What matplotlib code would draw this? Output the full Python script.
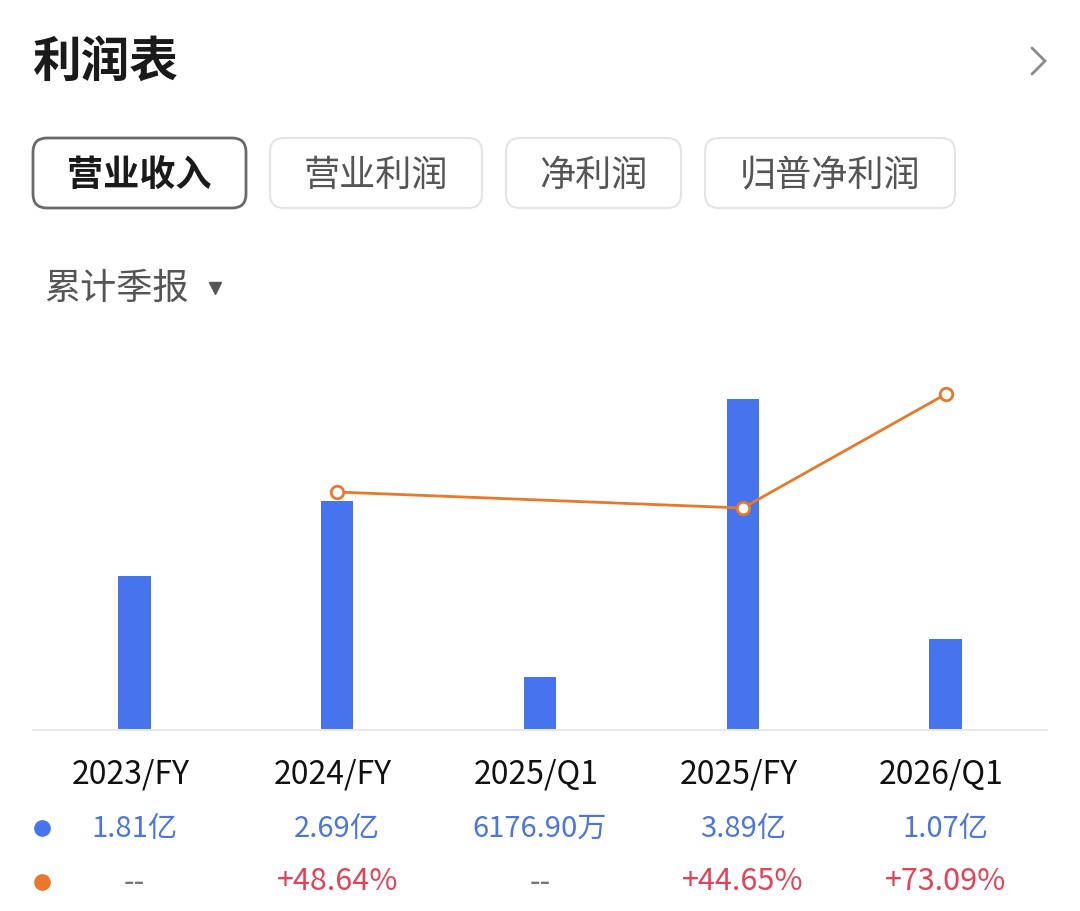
import matplotlib
matplotlib.use('Agg')
import matplotlib.pyplot as plt
from matplotlib.patches import FancyBboxPatch
from matplotlib.transforms import blended_transform_factory

plt.rcParams['font.family'] = ['Noto Sans CJK SC', 'DejaVu Sans']

# 数据
periods = ['2023/FY', '2024/FY', '2025/Q1', '2025/FY', '2026/Q1']
revenue = [1.81, 2.69, 0.617690, 3.89, 1.07]          # 亿
revenue_text = ['1.81亿', '2.69亿', '6176.90万', '3.89亿', '1.07亿']
growth = [None, 48.64, None, 44.65, 73.09]             # %
growth_text = ['--', '+48.64%', '--', '+44.65%', '+73.09%']
tabs = ['营业收入', '营业利润', '净利润', '归普净利润']

BLUE = '#4673ee'
ORANGE = '#e8782a'
RED = '#e2435a'

W, H = 1080, 911
fig = plt.figure(figsize=(W / 100, H / 100), dpi=100)

# 背景层，用像素坐标画标题和按钮
bg = fig.add_axes([0, 0, 1, 1])
bg.set_xlim(0, W)
bg.set_ylim(H, 0)
bg.axis('off')

bg.text(33, 62, '利润表', fontsize=35, fontweight='bold', color='#1a1a1a',
        ha='left', va='center')
# 右上角箭头
bg.plot([1032, 1045, 1032], [48, 61, 74], color='#8a8a8a', linewidth=2,
        solid_capstyle='round', solid_joinstyle='miter')

tab_x = [(33, 246), (270, 482), (506, 681), (705, 955)]
for i, (name, (x0, x1)) in enumerate(zip(tabs, tab_x)):
    sel = i == 0
    box = FancyBboxPatch((x0, 138), x1 - x0, 70,
                         boxstyle='round,pad=0,rounding_size=14',
                         facecolor='white',
                         edgecolor='#6a6a6a' if sel else '#e4e4e4',
                         linewidth=2.0 if sel else 1.5)
    bg.add_patch(box)
    bg.text((x0 + x1) / 2, 176, name, fontsize=26,
            fontweight='bold' if sel else 'normal',
            color='#1a1a1a' if sel else '#555555', ha='center', va='center')

bg.text(44, 289, '累计季报', fontsize=26, color='#555555', ha='left', va='center')
bg.plot([215], [288], marker='v', markersize=9, color='#555555')

# 图表区
ax = fig.add_axes([33 / W, (H - 730) / H, 1014 / W, 400 / H])
x = list(range(len(periods)))
ax.bar(x, revenue, width=0.16, color=BLUE, zorder=2)
ax.set_xlim(-0.5, 4.5)
ax.set_ylim(0, 400 / 85)
for s in ['top', 'right', 'left']:
    ax.spines[s].set_visible(False)
ax.spines['bottom'].set_color('#e8e8e8')
ax.spines['bottom'].set_linewidth(1.5)
ax.set_xticks([])
ax.set_yticks([])
ax.patch.set_alpha(0)

ax2 = ax.twinx()
gx = [i for i, g in zip(x, growth) if g is not None]
gy = [g for g in growth if g is not None]
ax2.plot(gx, gy, color=ORANGE, linewidth=2, marker='o', markersize=9,
         markerfacecolor='white', markeredgecolor=ORANGE, markeredgewidth=2,
         zorder=3)
ax2.set_ylim(-10.85, 89.15)
ax2.axis('off')

# 下方数值行
tr = blended_transform_factory(ax.transData, fig.transFigure)
for i in x:
    ax.text(i - 0.02, 1 - 775 / H, periods[i], transform=tr, fontsize=23,
            color='#111111', ha='center', va='center')
    ax.text(i, 1 - 829 / H, revenue_text[i], transform=tr, fontsize=21,
            color='#4d76dc', ha='center', va='center')
    ax.text(i, 1 - 882 / H, growth_text[i], transform=tr, fontsize=22,
            color=RED if growth[i] is not None else '#777777',
            ha='center', va='center')

bg.plot([42], [828], marker='o', markersize=11, color=BLUE, zorder=5)
bg.plot([42], [882], marker='o', markersize=11, color=ORANGE, zorder=5)

fig.savefig('out.png', dpi=100, facecolor='white')
